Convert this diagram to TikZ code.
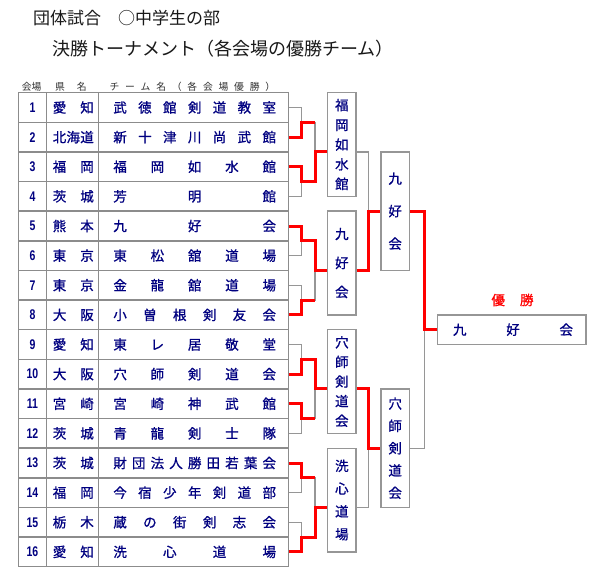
\documentclass[tikz,border=0pt]{standalone}
\usepackage{fontspec}
\setmainfont{Noto Sans CJK JP}
\newfontfamily\cellf[FakeBold=0.9]{Noto Sans CJK JP}
\newfontfamily\numf[FakeStretch=0.75]{Liberation Sans}
\usetikzlibrary{calc}
\definecolor{navyc}{RGB}{0,0,128}
\definecolor{linegray}{RGB}{150,150,150}
\definecolor{tabgray}{RGB}{140,140,140}
\definecolor{winred}{RGB}{255,0,0}
\definecolor{titlec}{RGB}{25,25,25}
\definecolor{headc}{RGB}{50,50,50}
\makeatletter
\def\spreadchars#1{\spread@first#1\relax}
\def\spread@first#1{#1\spread@rest}
\def\spread@rest#1{\ifx#1\relax\else\hfill#1\expandafter\spread@rest\fi}
\makeatother
\newcommand\spreadbox[2]{\makebox[#1]{\expandafter\spreadchars\expandafter{#2}}}
\begin{document}
\begin{tikzpicture}[x=1pt,y=-1pt,
  cell/.style={inner sep=0pt, minimum height=29.625pt, text=navyc, font=\cellf\fontsize{13.5}{16}\selectfont},
  hdr/.style={inner sep=0pt, text=headc, font=\fontsize{9.8}{11}\selectfont},
  vbox/.style={draw=linegray, line width=1.4pt, fill=white, inner sep=0pt, minimum width=28.3pt, align=center, text=navyc, font=\cellf\fontsize{13.5}{#1}\selectfont},
  tabline/.style={draw=tabgray, line width=1.5pt},
  gline/.style={draw=linegray, line width=1.2pt},
  rline/.style={draw=winred, line width=3pt},
]
\path[use as bounding box, fill=white] (0,0) rectangle (600,580);

% titles
\node[anchor=west, inner sep=0pt, text=titlec, font=\fontsize{17}{20}\selectfont] (title1) at (33,18.5) {団体試合　○中学生の部};
\node[anchor=west, inner sep=0pt, text=titlec, font=\fontsize{18}{20}\selectfont] (title2) at (52,48.5) {決勝トーナメント（各会場の優勝チーム）};

% column header
\node[hdr] (hkai) at (31.7,86.7) {会場};
\node[hdr] (hken) at (60,86.7) {県};
\node[hdr] (hmei) at (81.7,86.7) {名};
\node[hdr] (hteam) at (192.35,86.7) {\spreadbox{165.7pt}{チーム名（各会場優勝）}};

% table grid
\foreach \k in {0,...,16} \draw[tabline] (18.3,{92.7+\k*29.625}) -- (288.7,{92.7+\k*29.625});
\foreach \x in {18.3,46.7,98.3,288.7} \draw[tabline] (\x,92.7) -- (\x,566.7);

% rows
\foreach \i/\pf/\tm in {1/愛知/武徳館剣道教室, 2/北海道/新十津川尚武館, 3/福岡/福岡如水館, 4/茨城/芳明館, 5/熊本/九好会, 6/東京/東松舘道場, 7/東京/金龍舘道場, 8/大阪/小曽根剣友会, 9/愛知/東レ居敬堂, 10/大阪/穴師剣道会, 11/宮崎/宮崎神武館, 12/茨城/青龍剣士隊, 13/茨城/財団法人勝田若葉会, 14/福岡/今宿少年剣道部, 15/栃木/蔵の街剣志会, 16/愛知/洗心道場}{
  \node[cell, minimum width=28.4pt, font=\numf\bfseries\fontsize{14}{14}\selectfont] (num\i) at (32.5,{92.7+(\i-0.5)*29.625}) {\i};
  \node[cell, minimum width=51.6pt] (pref\i) at (72.5,{92.7+(\i-0.5)*29.625}) {\hspace*{1.6pt}\spreadbox{41pt}{\pf}};
  \node[cell, minimum width=190.4pt] (team\i) at (193.5,{92.7+(\i-0.5)*29.625}) {\hspace*{2.4pt}\spreadbox{162.7pt}{\tm}};
}

% junction coordinates
\foreach \m in {1,...,8} \coordinate (j\m) at (301.7,{92.7+(2*\m-1)*29.625});
\foreach \n in {1,...,4} \coordinate (k\n) at (315,{92.7+(4*\n-2)*29.625});
\coordinate (l1) at (368.3,{92.7+4*29.625});
\coordinate (l2) at (368.3,{92.7+12*29.625});
\coordinate (f) at (424.3,{92.7+8*29.625});

% venue winner boxes
\node[vbox=19.7pt, minimum height=103.7pt] (b1) at (341.85,144.55) {福\\岡\\如\\水\\館};
\node[vbox=29pt, minimum height=103.7pt] (b2) at (341.85,263.05) {九\\好\\会};
\node[vbox=19.6pt, minimum height=103.7pt] (b4) at (341.85,381.55) {穴\\師\\剣\\道\\会};
\node[vbox=22.8pt, minimum height=103.7pt] (b6) at (341.85,500.05) {洗\\心\\道\\場};
\node[vbox=32.5pt, minimum height=118.5pt] (b3) at (395.15,211.2) {九\\好\\会};
\node[vbox=22.3pt, minimum height=118.5pt] (b5) at (395.15,448.2) {穴\\師\\剣\\道\\会};
\node[draw=linegray, line width=1.4pt, inner sep=0pt, minimum width=148.3pt, minimum height=29.6pt, text=navyc, font=\cellf\fontsize{13.5}{16}\selectfont] (fin) at (511.85,329.7) {\hspace*{2.3pt}\spreadbox{120pt}{九好会}};
\node[inner sep=0pt, text=winred, font=\cellf\fontsize{13.5}{16}\selectfont] (win) at (512.5,300) {\spreadbox{42pt}{優勝}};

% gray bracket skeleton
\foreach \i in {1,...,16}{
  \pgfmathtruncatemacro\m{(\i+1)/2}
  \draw[gline] (team\i.east) -| (j\m);
}
\foreach \m in {1,...,8}{
  \pgfmathtruncatemacro\n{(\m+1)/2}
  \draw[gline] (j\m) -| (k\n);
}
\draw[gline] (k1) -- (b1.west |- k1);
\draw[gline] (k2) -- (b2.west |- k2);
\draw[gline] (k3) -- (b4.west |- k3);
\draw[gline] (k4) -- (b6.west |- k4);
\draw[gline] (b1.east |- k1) -| (l1);
\draw[gline] (b2.east |- k2) -| (l1);
\draw[gline] (l1) -- (b3.west);
\draw[gline] (b4.east |- k3) -| (l2);
\draw[gline] (b6.east |- k4) -| (l2);
\draw[gline] (l2) -- (b5.west);
\draw[gline] (b3.east) -| (f);
\draw[gline] (b5.east) -| (f);
\draw[gline] (f) -- (fin.west);

% winners in red
\draw[rline] (team2.east) -| (j1) -- (k1 |- j1);
\draw[rline] (team3.east) -| (j2) -| (k1) -- (b1.west |- k1);
\draw[rline] (team5.east) -| (j3) -| (k2) -- (b2.west |- k2);
\draw[rline] (team8.east) -| (j4) -- (k2 |- j4);
\draw[rline] (team10.east) -| (j5) -| (k3) -- (b4.west |- k3);
\draw[rline] (team11.east) -| (j6) -- (k3 |- j6);
\draw[rline] (team13.east) -| (j7) -- (k4 |- j7);
\draw[rline] (team16.east) -| (j8) -| (k4) -- (b6.west |- k4);
\draw[rline] (b2.east |- k2) -| (l1) -- (b3.west);
\draw[rline] (b4.east |- k3) -| (l2) -- (b5.west);
\draw[rline] (b3.east) -| (f) -- (fin.west);
\end{tikzpicture}
\end{document}
